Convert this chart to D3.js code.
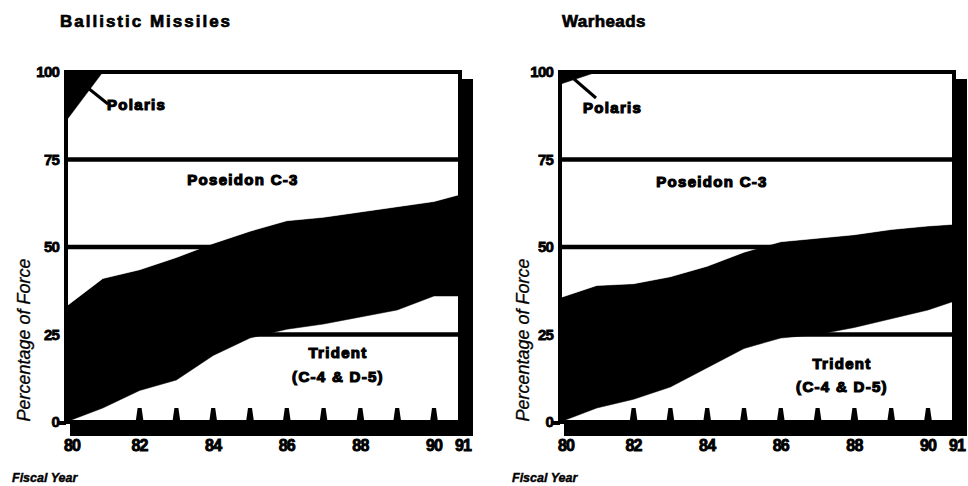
<!DOCTYPE html>
<html><head><meta charset="utf-8">
<script src="https://cdn.jsdelivr.net/npm/d3@7"></script>
<style>html,body{margin:0;padding:0;background:#fff;} svg{display:block;}</style>
</head><body><svg id="c" width="968" height="486"></svg>
<script>
// ---- data ----
const years = [80, 81, 82, 83, 84, 85, 86, 87, 88, 89, 90, 91];
const seriesKeys = ["trident", "backfit", "poseidon", "polaris"];

const missilesTrident  = [0, 4, 9, 12, 19, 24, 26.5, 28, 30, 32, 36, 36];
const missilesBackfit  = [33, 37, 34.5, 35, 32, 30.5, 31, 30.5, 30, 29.5, 27, 29];
const missilesPoseidon = [53, 59, 56.5, 53, 49, 45.5, 42.5, 41.5, 40, 38.5, 37, 35];
const missilesPolaris  = [14, 0, 0, 0, 0, 0, 0, 0, 0, 0, 0, 0];

const warheadsTrident  = [0, 4, 6.5, 10, 15.5, 21, 24, 25, 27, 29.5, 32, 34.5];
const warheadsBackfit  = [35.5, 35, 33, 31.5, 29, 27.5, 27.5, 27.5, 26.5, 25.5, 24, 22];
const warheadsPoseidon = [61, 61, 60.5, 58.5, 55.5, 51.5, 48.5, 47.5, 46.5, 45, 44, 43.5];
const warheadsPolaris  = [3.5, 0, 0, 0, 0, 0, 0, 0, 0, 0, 0, 0];

const yTicks = [0, 25, 50, 75, 100];
const gridValues = [25, 50, 75];
const xTickYears = [80, 82, 84, 86, 88, 90, 91];
const xTickLabels = ["80", "82", "84", "86", "88", "90", "91"];
const spikeYears = [82, 83, 84, 85, 86, 87, 88, 89, 90];

const panelTitles = ["Ballistic Missiles", "Warheads"];
const yTitle = "Percentage of Force";
const xTitle = "Fiscal Year";
const labelPolaris = "Polaris";
const labelPoseidon = "Poseidon C-3";
const labelTrident = ["Trident", "(C-4 & D-5)"];

// ---- layout ----
const svg = d3.select("#c");
const FONT = "'Liberation Sans', Arial, Helvetica, sans-serif";
const x = d3.scaleLinear().domain([80, 90, 91]).range([0, 368, 394]);
const y = d3.scaleLinear().domain([0, 100]).range([422, 72]);
const W = x(91);

function rowsOf(tr, bf, ps, pl) {
  return years.map((yr, i) => ({year: yr, trident: tr[i], backfit: bf[i], poseidon: ps[i], polaris: pl[i]}));
}

const panels = [
  {x0: 66, rows: rowsOf(missilesTrident, missilesBackfit, missilesPoseidon, missilesPolaris),
   title: panelTitles[0], titleX: 60, titleLS: 2.0,
   polaris: {lx1: 22, ly1: 88, lx2: 42, ly2: 104, tx: 41, ty: 105},
   poseidon: {tx: 177, ty: 180},
   trident: {tx: 272, ty1: 353, ty2: 377},
   yTitleX: 30, xTitleX: 12},
  {x0: 560, rows: rowsOf(warheadsTrident, warheadsBackfit, warheadsPoseidon, warheadsPolaris),
   title: panelTitles[1], titleX: 562, titleLS: 0.4,
   polaris: {lx1: 14, ly1: 79, lx2: 36, ly2: 98, tx: 23, ty: 108},
   poseidon: {tx: 152, ty: 182},
   trident: {tx: 282, ty1: 364, ty2: 387},
   yTitleX: 529, xTitleX: 512}
];

const fills = {trident: "#fff", backfit: "#000", poseidon: "#fff", polaris: "#000"};
const stack = d3.stack().keys(seriesKeys);
const area = d3.area().x(d => x(d.data.year)).y0(d => y(d[0])).y1(d => y(d[1])).curve(d3.curveLinear);

panels.forEach(p => {
  // title
  svg.append("text").attr("x", p.titleX).attr("y", 27)
    .attr("font-family", FONT).attr("font-weight", "bold").attr("font-size", 17)
    .attr("letter-spacing", p.titleLS).attr("fill", "#000")
    .attr("stroke", "#000").attr("stroke-width", 0.7).text(p.title);

  // y axis title
  svg.append("text").attr("transform", `translate(${p.yTitleX},340) rotate(-90)`)
    .attr("text-anchor", "middle").attr("font-family", FONT).attr("font-style", "italic")
    .attr("font-size", 18).attr("fill", "#000").attr("stroke", "#000").attr("stroke-width", 0.3)
    .text(yTitle);

  // x axis title
  svg.append("text").attr("x", p.xTitleX).attr("y", 482)
    .attr("font-family", FONT).attr("font-style", "italic").attr("font-weight", "bold")
    .attr("font-size", 12.5).attr("fill", "#000").attr("stroke", "#000").attr("stroke-width", 0.4)
    .text(xTitle);

  const g = svg.append("g").attr("transform", `translate(${p.x0},0)`);

  // shadow
  g.append("rect").attr("x", 4).attr("y", y(100) + 7).attr("width", W + 9).attr("height", y(0) - y(100) + 7)
    .attr("fill", "#000");
  // plot background
  g.append("rect").attr("x", 0).attr("y", y(100)).attr("width", W).attr("height", y(0) - y(100)).attr("fill", "#fff");

  // stacked areas
  const series = stack(p.rows);
  g.selectAll("path.area").data(series).join("path").attr("class", "area")
    .attr("d", area).attr("fill", d => fills[d.key]).attr("stroke", d => fills[d.key]).attr("stroke-width", 0.5);

  // gridlines
  g.selectAll("line.grid").data(gridValues).join("line").attr("class", "grid")
    .attr("x1", 0).attr("x2", W).attr("y1", d => y(d)).attr("y2", d => y(d))
    .attr("stroke", "#000").attr("stroke-width", 4.5);

  // frame
  g.append("rect").attr("x", 0).attr("y", y(100)).attr("width", W).attr("height", y(0) - y(100))
    .attr("fill", "none").attr("stroke", "#000").attr("stroke-width", 4);

  // bottom spikes
  g.selectAll("path.spike").data(spikeYears).join("path").attr("class", "spike")
    .attr("d", d => `M${x(d) - 4},${y(0)} L${x(d) - 2},${y(0) - 14} L${x(d) + 2},${y(0) - 14} L${x(d) + 4},${y(0)} Z`)
    .attr("fill", "#000");

  // zero tick
  g.append("line").attr("x1", -9).attr("x2", 0).attr("y1", y(0) + 1).attr("y2", y(0) + 1)
    .attr("stroke", "#000").attr("stroke-width", 4);

  // y tick labels
  g.selectAll("text.yt").data(yTicks).join("text").attr("class", "yt")
    .attr("x", -7).attr("y", d => y(d)).attr("dy", "0.36em").attr("text-anchor", "end")
    .attr("font-family", FONT).attr("font-weight", "bold").attr("font-size", 15)
    .attr("letter-spacing", -0.8).attr("fill", "#000").attr("stroke", "#000").attr("stroke-width", 0.8)
    .text(d => d);

  // x tick labels
  g.selectAll("text.xt").data(xTickYears).join("text").attr("class", "xt")
    .attr("x", (d, i) => x(d) + (i === 0 ? 6 : (d === 91 ? 3 : 0))).attr("y", 451)
    .attr("text-anchor", "middle").attr("font-family", FONT).attr("font-weight", "bold")
    .attr("font-size", 16).attr("letter-spacing", -0.8).attr("fill", "#000")
    .attr("stroke", "#000").attr("stroke-width", 0.9)
    .text((d, i) => xTickLabels[i]);

  // Polaris leader + label
  g.append("line").attr("x1", p.polaris.lx1).attr("y1", p.polaris.ly1)
    .attr("x2", p.polaris.lx2).attr("y2", p.polaris.ly2).attr("stroke", "#000").attr("stroke-width", 3);
  const lab = (txt, xx, yy, anchor) => g.append("text").attr("x", xx).attr("y", yy).attr("dy", "0.35em")
    .attr("text-anchor", anchor).attr("font-family", FONT).attr("font-weight", "bold")
    .attr("font-size", 15).attr("letter-spacing", 1.3).attr("fill", "#000")
    .attr("stroke", "#000").attr("stroke-width", 1.2).text(txt);
  lab(labelPolaris, p.polaris.tx, p.polaris.ty, "start");
  lab(labelPoseidon, p.poseidon.tx, p.poseidon.ty, "middle");
  lab(labelTrident[0], p.trident.tx, p.trident.ty1, "middle");
  lab(labelTrident[1], p.trident.tx, p.trident.ty2, "middle");
});
</script>
</body></html>
